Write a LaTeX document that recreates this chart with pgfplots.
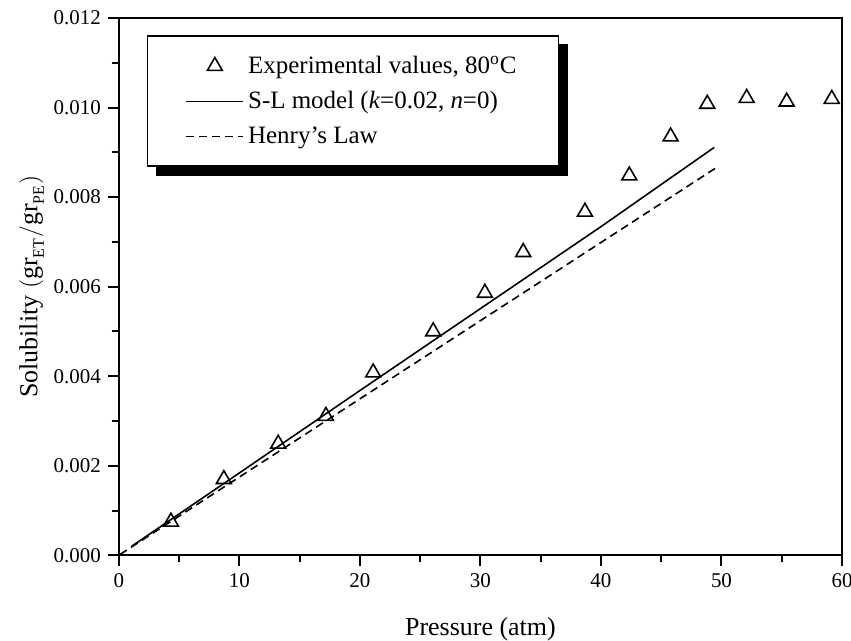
\documentclass[border=0pt]{standalone}
\usepackage{pgfplots}
\pgfplotsset{compat=1.18}
\usepackage{fontspec}
\setmainfont{Liberation Serif}
\usetikzlibrary{backgrounds}
\pgfplotsset{
  lineleg/.style={legend image code/.code={\draw[##1] (0pt,0pt) -- (28.5pt,0pt);}},
  markleg/.style={legend image code/.code={\draw[mark repeat=2,mark phase=2,##1] plot coordinates {(0pt,0pt)(14.25pt,0pt)(28.5pt,0pt)};}},
}
\begin{document}
\begin{tikzpicture}
\begin{axis}[
  scale only axis,
  width=362pt, height=269pt,
  xmin=0, xmax=60, ymin=0, ymax=0.012,
  xtick={0,10,...,60},
  ytick={0,0.002,...,0.012},
  minor x tick num=1, minor y tick num=1,
  tick align=outside,
  xtick pos=bottom, ytick pos=left,
  major tick length=5.5pt, minor tick length=3.5pt,
  axis line style={line width=1pt},
  every tick/.style={line width=1pt, black},
  /pgf/number format/assume math mode=true,
  yticklabel style={/pgf/number format/.cd, fixed, fixed zerofill, precision=3},
  scaled y ticks=false,
  tick label style={font=\fontsize{10.5}{12}\selectfont},
  label style={font=\fontsize{13}{15}\selectfont},
  xlabel={Pressure (atm)},
  ylabel={Solubility $\left(\mbox{gr}_{\mbox{\fontsize{8}{9}\selectfont ET}}\big/\mbox{gr}_{\mbox{\fontsize{8}{9}\selectfont PE}}\right)$},
  xlabel style={yshift=-8pt},
  ylabel style={yshift=-2pt},
  legend cell align=left,
  legend style={name=leg, at={(rel axis cs:0.0387,0.968)}, anchor=north west,
    draw=black, line width=0.8pt, fill=white,
    inner xsep=19pt, inner ysep=8pt, row sep=3.5pt,
    font=\fontsize{12.5}{15}\selectfont},
]
\addplot[only marks, mark=triangle, mark size=4.3pt, mark options={line width=0.8pt, black}, markleg]
  coordinates {
  (4.32,0.00075) (8.71,0.00170) (13.22,0.00249) (17.18,0.00311) (21.10,0.00408)
  (26.08,0.00500) (30.37,0.00586) (33.55,0.00677) (38.67,0.00767) (42.35,0.00848)
  (45.78,0.00935) (48.82,0.01008) (52.09,0.01021) (55.41,0.01013) (59.15,0.01019)
  };
\addlegendentry{Experimental values, 80\textsuperscript{o}C}
\addplot[black, line width=0.8pt, lineleg]
  coordinates {(1.05,0.00020) (10,0.00184) (20,0.00368) (30,0.00551) (40,0.00734) (49.4,0.00911)};
\addlegendentry{S-L model (\textit{k}=0.02, \textit{n}=0)}
\addplot[black, line width=0.8pt, dash pattern=on 4pt off 2.5pt, lineleg]
  coordinates {(0.1,0.00002) (49.7,0.00868)};
\addlegendentry{Henry's Law}
\coordinate (SW) at (rel axis cs:0,0);
\coordinate (NE) at (rel axis cs:1,1);
\end{axis}
\begin{pgfonlayer}{background}
\fill[black] ([shift={(4.5pt,-4.5pt)}]leg.south west) rectangle ([shift={(4.5pt,-4.5pt)}]leg.north east);
\end{pgfonlayer}
\pgfresetboundingbox
\path ([xshift=-59.5pt,yshift=-42.5pt]SW) rectangle ([xshift=4.5pt,yshift=9pt]NE);
\end{tikzpicture}
\end{document}
